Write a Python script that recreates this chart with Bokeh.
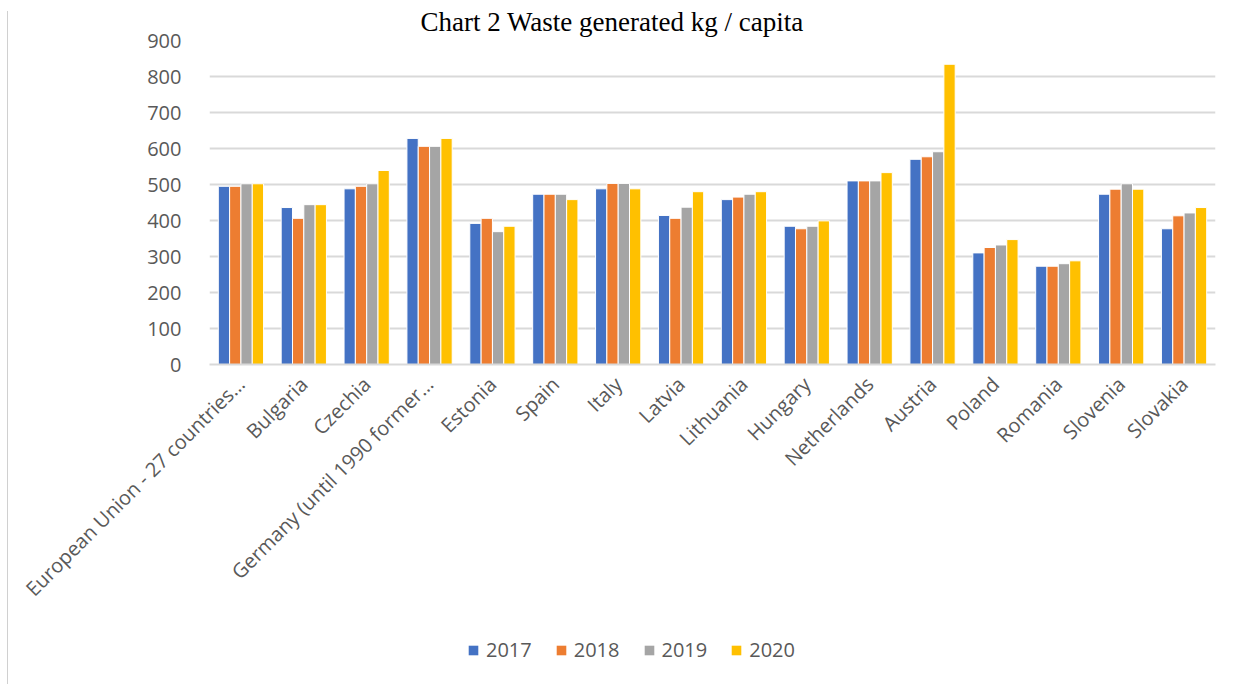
import math
from bokeh.plotting import figure
from bokeh.layouts import column
from bokeh.models import (ColumnDataSource, FactorRange, Range1d, Legend, LegendItem,
                          Title, FixedTicker)
from bokeh.transform import dodge
from bokeh.embed import file_html
from bokeh.resources import INLINE

countries = ["European Union - 27 countries\u2026", "Bulgaria", "Czechia",
             "Germany (until 1990 former\u2026", "Estonia", "Spain", "Italy", "Latvia",
             "Lithuania", "Hungary", "Netherlands", "Austria", "Poland", "Romania",
             "Slovenia", "Slovakia"]
years = ["2017", "2018", "2019", "2020"]
v2017 = [495, 436, 488, 628, 392, 473, 488, 414, 458, 384, 510, 570, 310, 273, 473, 377]
v2018 = [495, 406, 495, 606, 406, 473, 503, 406, 465, 377, 510, 577, 325, 273, 487, 413]
v2019 = [502, 444, 502, 606, 369, 473, 503, 437, 473, 384, 510, 591, 332, 280, 502, 421]
v2020 = [502, 444, 539, 628, 384, 458, 488, 480, 480, 399, 533, 834, 347, 288, 487, 436]
colors = ["#4472C4", "#ED7D31", "#A5A5A5", "#FFC000"]
title_text = "Chart 2 Waste generated kg / capita"
y_ticks = [0, 100, 200, 300, 400, 500, 600, 700, 800, 900]

BORDER = "#d0d0d0"

source = ColumnDataSource(dict(country=countries, y2017=v2017, y2018=v2018,
                               y2019=v2019, y2020=v2020))

p = figure(x_range=FactorRange(*countries), y_range=Range1d(0, 900),
           width=1235, height=630, output_backend="svg", toolbar_location=None,
           min_border_left=209, min_border_right=20, min_border_top=39,
           min_border_bottom=266)
p.outline_line_color = None
p.background_fill_color = "white"
p.border_fill_alpha = 0
p.styles = {
    "background": (f"linear-gradient({BORDER}, {BORDER}) 7px 11px / 1px 100% no-repeat, "
                   "white")
}

offsets = [-0.27, -0.09, 0.09, 0.27]
renderers = []
for yr, off, col in zip(years, offsets, colors):
    r = p.vbar(x=dodge("country", off, range=p.x_range), top="y" + yr, width=0.18,
               source=source, fill_color=col, line_color="white", line_width=1)
    renderers.append(r)

# axes
p.yaxis.ticker = FixedTicker(ticks=y_ticks)
p.yaxis.axis_line_color = None
p.yaxis.major_tick_line_color = None
p.yaxis.minor_tick_line_color = None
p.yaxis.major_label_standoff = 22
p.yaxis.major_label_text_font = "Open Sans"
p.yaxis.major_label_text_font_size = "20px"
p.yaxis.major_label_text_color = "#595959"

p.xaxis.axis_line_color = "#d9d9d9"
p.xaxis.axis_line_width = 2
p.xaxis.major_tick_line_color = None
p.xaxis.minor_tick_line_color = None
p.xaxis.major_label_orientation = math.pi / 4
p.xaxis.major_label_standoff = 10
p.xaxis.major_label_text_font = "Open Sans"
p.xaxis.major_label_text_font_size = "20px"
p.xaxis.major_label_text_color = "#595959"

p.xgrid.grid_line_color = None
p.ygrid.grid_line_color = "#d9d9d9"
p.ygrid.grid_line_width = 2

# title
p.add_layout(Title(text=title_text, text_font="Liberation Serif", text_font_size="27px",
                   text_font_style="normal", text_color="black", align="left",
                   offset=211, standoff=8), "above")

# legend strip below the chart
lg = figure(width=1235, height=54, x_range=Range1d(0, 1), y_range=Range1d(0, 1),
            x_axis_location=None, y_axis_location=None, output_backend="svg",
            toolbar_location=None, min_border=0)
lg.outline_line_color = None
lg.background_fill_alpha = 0
lg.border_fill_alpha = 0
lg.grid.visible = False
lg.styles = {
    "background": (f"linear-gradient({BORDER}, {BORDER}) 7px 0px / 1px 100% no-repeat, "
                   "white")
}
nan = float("nan")
legend_renderers = []
for col in colors:
    # key glyphs only: no drawable data in this strip
    legend_renderers.append(lg.vbar(x=[nan], top=[nan], width=0.1, fill_color=col,
                                    line_color=None))

legend = Legend(items=[LegendItem(label=yr, renderers=[r])
                       for yr, r in zip(years, legend_renderers)],
                orientation="horizontal", location=(258, 21),
                glyph_width=12, glyph_height=12, label_standoff=7, spacing=23,
                label_text_font="Open Sans", label_text_font_size="20px",
                label_text_color="#595959", border_line_color=None,
                background_fill_alpha=0, padding=0, margin=0)
lg.add_layout(legend, "center")

layout = column(p, lg, spacing=0)
open("out.html", "w").write(file_html(layout, INLINE))
